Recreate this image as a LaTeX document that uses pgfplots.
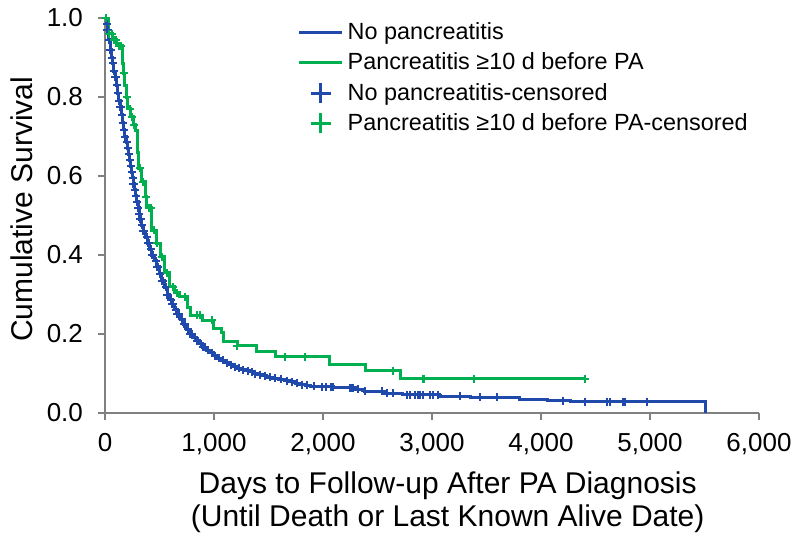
\documentclass[border=0pt]{standalone}
\usepackage{fontspec}
\setmainfont{Liberation Sans}
\usepackage{pgfplots}
\pgfplotsset{compat=1.18}
\definecolor{kmblue}{RGB}{31,73,170}
\definecolor{kmgreen}{RGB}{0,176,80}
\definecolor{axgray}{RGB}{128,128,128}
\begin{document}
\begin{tikzpicture}
\begin{axis}[name=ax, scale only axis, width=327pt, height=197.5pt,
  xmin=0, xmax=6000, ymin=0, ymax=1,
  axis x line*=bottom, axis y line*=left,
  axis line style={axgray, line width=1pt},
  every tick/.style={axgray, line width=1pt},
  tick align=outside, major tick length=3.5pt,
  xtick={0,1000,2000,3000,4000,5000,6000},
  ytick={0,0.2,0.4,0.6,0.8,1.0},
  /pgf/number format/assume math mode=true,
  ticklabel style={font=\fontsize{13}{15}\selectfont},
  xticklabel style={yshift=-3pt, /pgf/number format/.cd, 1000 sep={,}},
  yticklabel style={xshift=-4pt, /pgf/number format/.cd, fixed, fixed zerofill, precision=1},
  scaled ticks=false,
  xlabel={Days to Follow-up After PA Diagnosis\\(Until Death or Last Known Alive Date)},
  ylabel={Cumulative Survival},
  xlabel style={at={(axis description cs:0.524,-0.225)}, anchor=center, align=center, font=\fontsize{15}{16.5}\selectfont},
  ylabel style={at={(axis description cs:-0.127,0.516)}, rotate=0, anchor=center, font=\fontsize{15}{16.5}\selectfont},
  legend style={at={(axis description cs:0.294,1.0)}, anchor=north west, draw=none, fill=none,
    font=\fontsize{11.7}{13}\selectfont, row sep=1.2pt, inner sep=0pt},
  legend cell align=left,
  clip=false,
]
\addplot[const plot, kmblue, line width=1.5pt, mark=none,
  legend image code/.code={\draw[kmblue, line width=1.5pt] (0pt,0pt) -- (21.5pt,0pt);}] coordinates {
(0,1.0)(10,0.985)(20,0.97)(33,0.945)(46,0.92)(58,0.90)(70,0.885)(81,0.865)(92,0.85)(103,0.83)(115,0.81)(127,0.79)(138,0.775)(149,0.755)(160,0.735)(172,0.717)(183,0.70)(194,0.685)(205,0.67)(217,0.655)(229,0.64)(236,0.625)(243,0.61)(250,0.595)(257,0.58)(268,0.565)(280,0.55)(291,0.535)(303,0.52)(312,0.505)(321,0.49)(335,0.475)(350,0.46)(372,0.445)(394,0.43)(412,0.415)(430,0.40)(453,0.385)(477,0.37)(498,0.352)(520,0.335)(545,0.318)(569,0.30)(592,0.287)(615,0.275)(638,0.262)(661,0.25)(690,0.237)(720,0.225)(750,0.212)(780,0.20)(810,0.191)(840,0.183)(870,0.175)(899,0.167)(930,0.159)(960,0.152)(995,0.145)(1028,0.139)(1064,0.133)(1100,0.127)(1137,0.122)(1174,0.117)(1212,0.113)(1250,0.110)(1290,0.107)(1330,0.104)(1365,0.100)(1400,0.097)(1443,0.094)(1486,0.091)(1540,0.088)(1590,0.085)(1645,0.082)(1697,0.079)(1745,0.075)(1790,0.072)(1835,0.070)(1881,0.068)(1970,0.066)(2100,0.064)(2300,0.060)(2380,0.055)(2550,0.050)(2725,0.046)(3073,0.043)(3349,0.040)(3807,0.035)(4055,0.031)(4266,0.028)(5505,0.0)
};
\addlegendentry{No pancreatitis}
\addplot[const plot, kmgreen, line width=1.5pt, mark=none,
  legend image code/.code={\draw[kmgreen, line width=1.5pt] (0pt,0pt) -- (21.5pt,0pt);}] coordinates {
(0,1.0)(28,0.96)(70,0.945)(110,0.93)(156,0.886)(170,0.86)(183,0.83)(197,0.80)(211,0.77)(235,0.75)(257,0.73)(280,0.715)(294,0.70)(300,0.66)(303,0.62)(339,0.585)(367,0.547)(385,0.52)(431,0.463)(468,0.43)(505,0.395)(550,0.355)(596,0.32)(640,0.305)(688,0.294)(761,0.268)(780,0.248)(899,0.235)(991,0.215)(1073,0.205)(1083,0.18)(1211,0.17)(1394,0.155)(1560,0.1425)(2064,0.124)(2394,0.107)(2713,0.087)(4404,0.087)
};
\addlegendentry{Pancreatitis ≥10 d before PA}
\addplot[only marks, kmblue, mark=+, mark size=2pt, mark options={line width=1pt},
  legend image code/.code={\draw[kmblue, line width=1.5pt] (10.75pt,-5pt) -- (10.75pt,5pt) (5.75pt,0pt) -- (15.75pt,0pt);}] coordinates {
(5,1.0)(15,0.985)(22,0.97)(26,0.97)(40,0.945)(48,0.92)(52,0.92)(64,0.90)(72,0.885)(75,0.885)(86,0.865)(94,0.85)(97,0.85)(109,0.83)(117,0.81)(121,0.81)(132,0.79)(140,0.775)(143,0.775)(154,0.755)(162,0.735)(166,0.735)(177,0.717)(185,0.70)(188,0.70)(199,0.685)(207,0.67)(211,0.67)(223,0.655)(231,0.64)(232,0.64)(239,0.625)(246,0.61)(253,0.595)(259,0.58)(262,0.58)(274,0.565)(282,0.55)(285,0.55)(297,0.535)(305,0.52)(307,0.52)(316,0.505)(323,0.49)(328,0.49)(342,0.475)(352,0.46)(360,0.46)(383,0.445)(396,0.43)(403,0.43)(420,0.415)(432,0.40)(440,0.40)(465,0.385)(479,0.37)(487,0.37)(508,0.352)(522,0.335)(532,0.335)(557,0.318)(571,0.30)(580,0.30)(603,0.287)(617,0.275)(626,0.275)(650,0.262)(663,0.25)(675,0.25)(705,0.237)(722,0.225)(735,0.225)(765,0.212)(782,0.20)(795,0.20)(825,0.191)(842,0.183)(855,0.183)(885,0.175)(901,0.167)(915,0.167)(945,0.159)(978,0.152)(1010,0.145)(1045,0.139)(1080,0.133)(1118,0.127)(1155,0.122)(1192,0.117)(1230,0.113)(1270,0.110)(1310,0.107)(1348,0.104)(1380,0.100)(1420,0.097)(1465,0.094)(1510,0.091)(1560,0.088)(1615,0.085)(1670,0.082)(1720,0.079)(1765,0.075)(1810,0.072)(1855,0.070)(1920,0.068)(1990,0.066)(2030,0.066)(2073,0.066)(2092,0.066)(2248,0.064)(2266,0.064)(2275,0.064)(2321,0.060)(2385,0.055)(2541,0.055)(2587,0.050)(2642,0.050)(2771,0.046)(2798,0.046)(2844,0.046)(2872,0.046)(2890,0.046)(2917,0.046)(2982,0.046)(3009,0.046)(3055,0.046)(3257,0.043)(3440,0.040)(3596,0.040)(4202,0.031)(4404,0.028)(4606,0.028)(4633,0.028)(4752,0.028)(4771,0.028)(4972,0.028)
};
\addlegendentry{No pancreatitis-censored}
\addplot[only marks, kmgreen, mark=+, mark size=2pt, mark options={line width=1pt},
  legend image code/.code={\draw[kmgreen, line width=1.5pt] (10.75pt,-5pt) -- (10.75pt,5pt) (5.75pt,0pt) -- (15.75pt,0pt);}] coordinates {
(10,1.0)(40,0.96)(60,0.96)(85,0.945)(100,0.945)(130,0.93)(150,0.93)(175,0.86)(200,0.80)(225,0.77)(245,0.75)(270,0.73)(320,0.62)(350,0.585)(375,0.547)(400,0.52)(420,0.52)(450,0.463)(480,0.43)(520,0.395)(570,0.355)(620,0.32)(660,0.305)(734,0.294)(844,0.248)(872,0.248)(982,0.235)(1211,0.17)(1651,0.1425)(1835,0.1425)(2642,0.107)(2917,0.087)(2930,0.087)(3385,0.087)(4404,0.087)
};
\addlegendentry{Pancreatitis ≥10 d before PA-censored}
\end{axis}
\pgfresetboundingbox
\path ([shift={(-52.5pt,-67.5pt)}]ax.south west) rectangle ([shift={(20.5pt,9pt)}]ax.north east);
\end{tikzpicture}
\end{document}
